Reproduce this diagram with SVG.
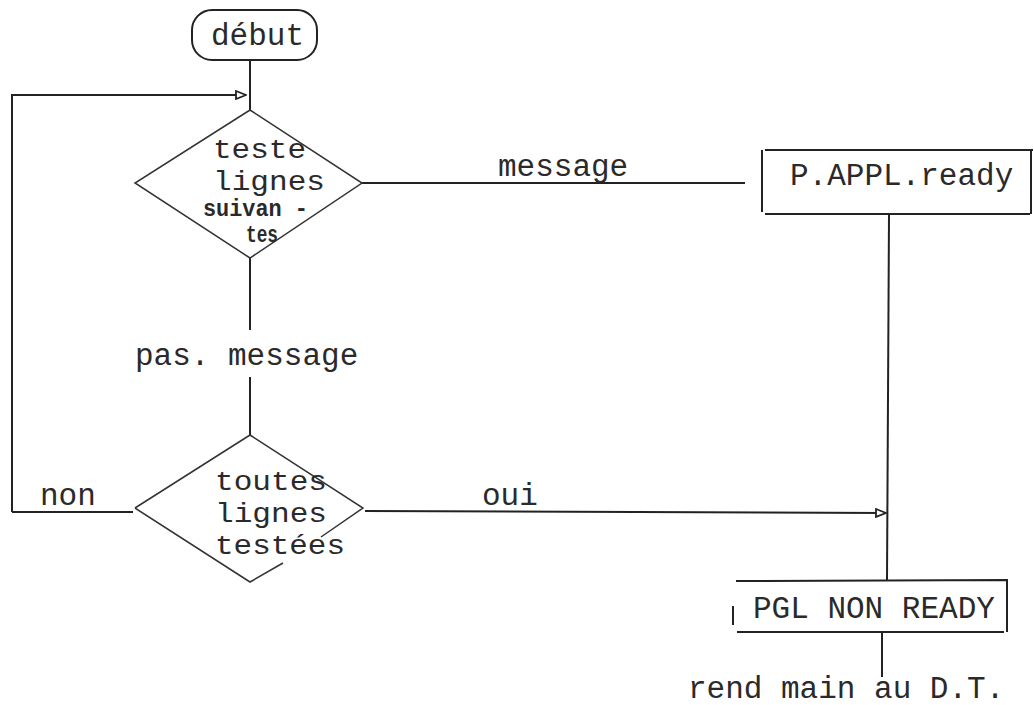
<svg xmlns="http://www.w3.org/2000/svg" width="1034" height="705" viewBox="0 0 1034 705">
<style>
text{font-family:"Liberation Mono","Courier New",monospace;font-size:31px;fill:#2a2a2a}
.dt{font-size:28px}
.ov{font-size:23px;font-weight:bold}
.ln{stroke:#222;stroke-width:2;fill:none}
.thin{stroke:#333;stroke-width:1.5;fill:none}
</style>
<defs>
<marker id="ah" markerWidth="12" markerHeight="10" refX="11" refY="5" orient="auto" markerUnits="userSpaceOnUse">
<path d="M1,1 L11,5 L1,9 Z" fill="#fff" stroke="#222" stroke-width="1.8"/>
</marker>
</defs>
<rect width="1034" height="705" fill="#fff"/>
<g id="connectors">
<line class="ln" x1="250" y1="60" x2="250" y2="110"/>
<path class="ln" d="M12,512 L12,95 L246,95" marker-end="url(#ah)"/>
<line class="ln" x1="12" y1="512" x2="133" y2="512"/>
<line class="ln" x1="362" y1="183" x2="745" y2="183"/>
<line class="ln" x1="250" y1="258" x2="250" y2="330"/>
<line class="ln" x1="250" y1="377" x2="250" y2="435"/>
<line class="ln" x1="365" y1="511" x2="886" y2="513" marker-end="url(#ah)"/>
<line class="ln" x1="889" y1="215" x2="887" y2="580"/>
<line class="ln" x1="882" y1="632" x2="882" y2="677"/>
<text x="498" y="176">message</text>
<text x="135" y="365">pas. message</text>
<text x="40" y="505">non</text>
<text x="482" y="505">oui</text>
</g>
<g id="debut">
<rect class="ln" x="192" y="10" width="125" height="50" rx="20"/>
<text x="211" y="45">début</text>
</g>
<g id="teste">
<path class="thin" d="M250,110 L362,183 L250,258 L135,183 Z"/>
<text class="dt" x="213" y="158" textLength="93" lengthAdjust="spacingAndGlyphs">teste</text>
<text class="dt" x="213" y="190" textLength="112" lengthAdjust="spacingAndGlyphs">lignes</text>
<text class="ov" x="203" y="216" textLength="105" lengthAdjust="spacingAndGlyphs">suivan -</text>
<text class="ov" x="246" y="242" textLength="32" lengthAdjust="spacingAndGlyphs">tes</text>
</g>
<g id="toutes">
<path class="thin" d="M135,508 L250,435 L363,508 L321,537 M283,563 L250,582 L135,508"/>
<text class="dt" x="215" y="490" textLength="112" lengthAdjust="spacingAndGlyphs">toutes</text>
<text class="dt" x="215" y="522" textLength="112" lengthAdjust="spacingAndGlyphs">lignes</text>
<text class="dt" x="215" y="554" textLength="130" lengthAdjust="spacingAndGlyphs">testées</text>
</g>
<g id="pappl">
<path class="ln" d="M762,150 L762,212 M765,150 L1033,150 M765,214 L1030,214 M1031,150 L1031,214"/>
<text x="790" y="185">P.APPL.ready</text>
</g>
<g id="pgl">
<path class="ln" d="M736,581 L1007,580 L1007,632 M737,632 L1004,632 M733,606 L733,625"/>
<text x="753" y="618">PGL NON READY</text>
</g>
<g id="rend">
<text x="688" y="698">rend main au D.T.</text>
</g>
</svg>
